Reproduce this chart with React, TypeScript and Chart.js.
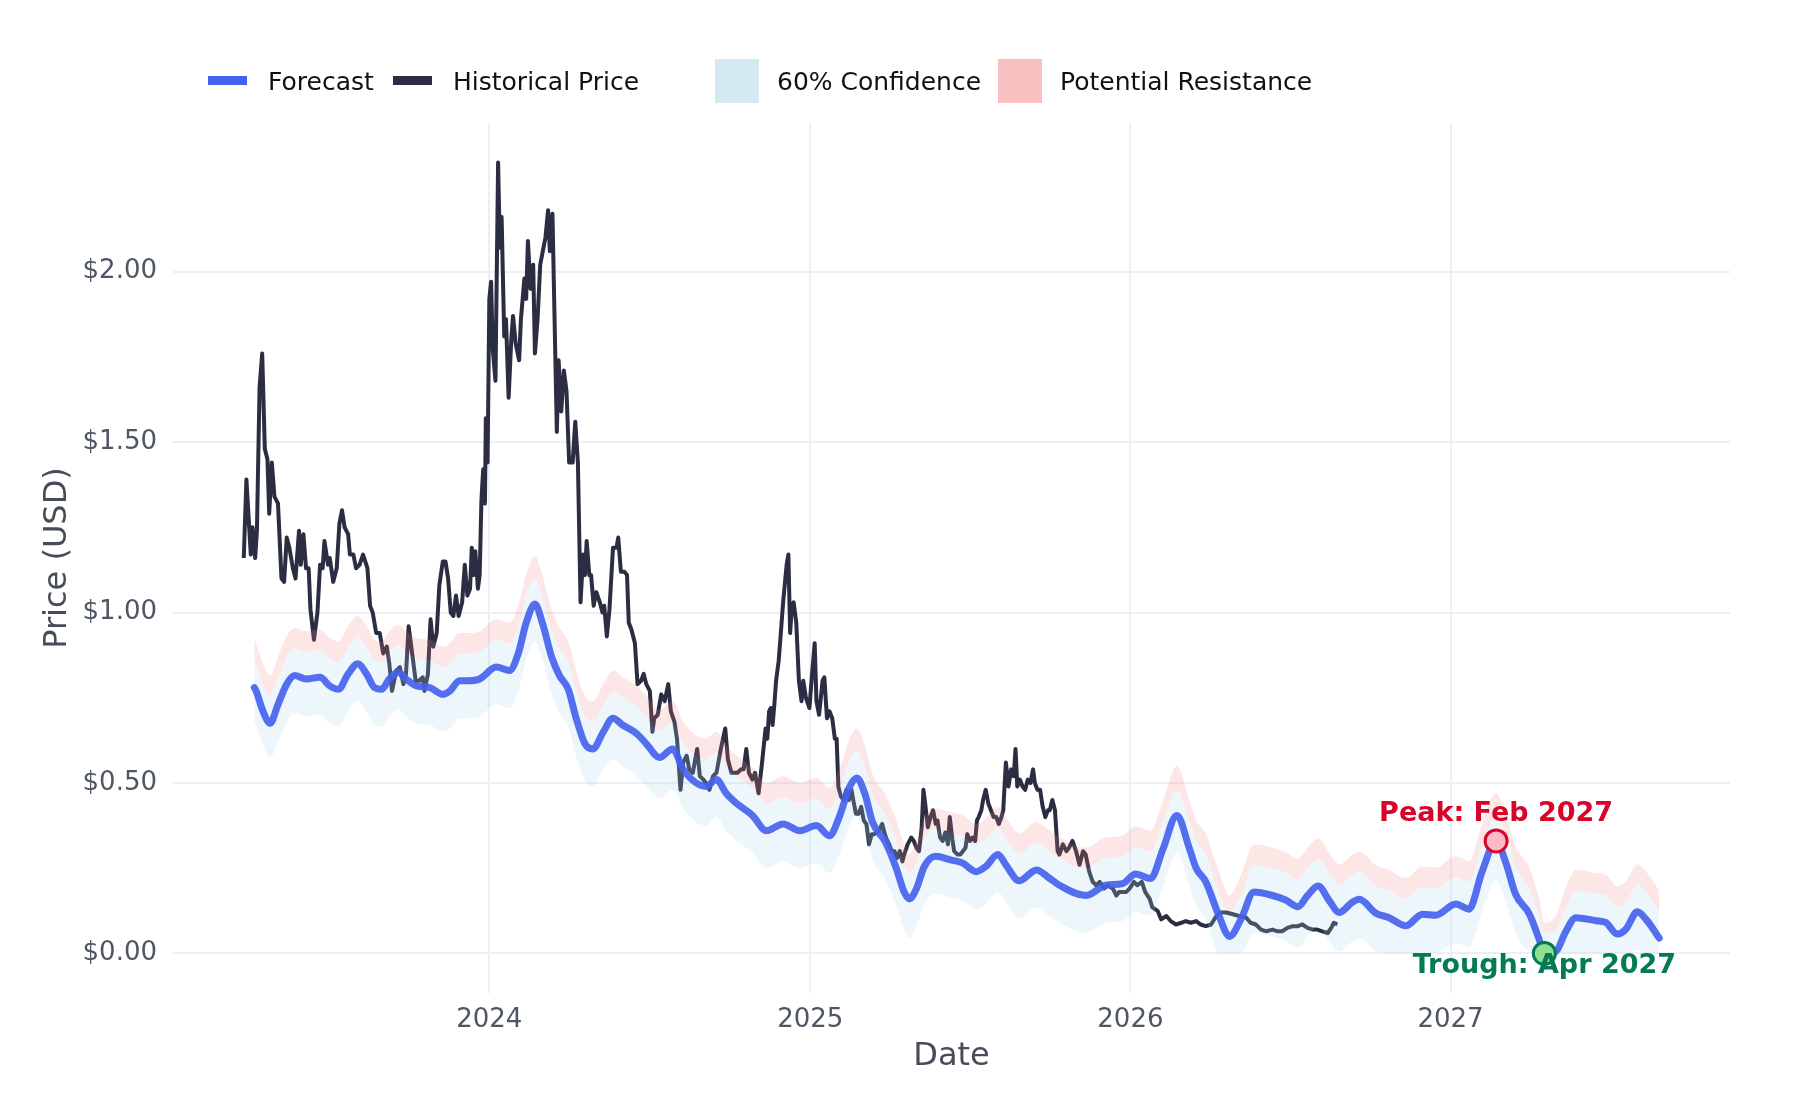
import React, { useEffect, useRef } from 'react';
import { Chart, registerables } from 'chart.js';

Chart.register(...registerables);

const DAY = 86400000;
const SERIES_START = Date.UTC(2023, 2, 27);

// historical closes, day offsets from SERIES_START
const histDay = [
  0, 3, 8, 10, 13, 15, 18, 21, 24, 27, 29, 32, 35, 39, 43, 46, 49, 52, 56, 59,
  63, 65, 68, 71, 74, 76, 80, 84, 87, 90, 92, 96, 98, 102, 106, 109, 112, 115, 119, 121,
  125, 128, 132, 136, 141, 144, 147, 151, 155, 159, 163, 166, 169, 174, 178, 182, 185, 188, 192, 196,
  200, 204, 206, 210, 213, 216, 220, 223, 227, 230, 233, 236, 239, 242, 245, 249, 252, 255,
  258, 260, 262, 264, 267, 269, 271, 273, 275, 276, 278, 280, 282, 284, 287, 290, 292, 294, 297, 299,
  302, 305, 307, 310, 314, 316, 320, 322, 324, 327, 330, 332, 335, 338, 341, 344, 347, 349, 352, 354,
  357, 359, 362, 365, 368, 371, 375, 378, 381, 384, 387, 389, 391, 394, 396, 399, 402, 406, 409, 411,
  414, 417, 421, 425, 427, 430, 434, 437, 439, 442, 446, 449, 453, 456, 459, 463, 466, 468, 472, 476,
  480, 484, 487, 491, 494, 498, 501, 505, 508, 512, 517, 520, 524, 527, 531, 535, 539, 544, 549, 552,
  556, 560, 563, 567, 570, 573, 576, 580, 583, 587, 591, 595, 597, 599,
  601, 603, 605, 607, 610, 613, 615, 619, 621, 623, 625, 627, 630, 633, 636, 638, 641, 645, 648, 651,
  653, 656, 660, 662, 665, 668, 671, 674, 676, 678, 681, 684, 687, 690, 693, 695, 698, 701, 704, 707,
  710, 713, 716, 719, 722, 725, 728, 731, 733, 736, 739, 742, 745, 748, 751, 753, 757, 761, 764, 767,
  770, 773, 775, 777, 780, 783, 786, 789, 791, 794, 797, 800, 803, 805, 808, 810, 814, 817, 820, 823,
  825, 828, 831, 834, 836, 838, 841, 843, 846, 849, 852, 855, 858, 861, 864, 866, 869, 872, 875, 878,
  880, 882, 885, 888, 891, 894, 897, 900, 902, 905, 908, 911, 914, 917, 919, 922, 925, 928, 930,
  934, 938, 941, 945, 949, 953, 957, 960, 964, 968, 972, 976, 981, 985, 991, 995, 998, 1002, 1006, 1010,
  1015, 1019, 1024, 1028, 1033, 1036, 1042, 1046, 1052, 1057, 1063, 1069, 1074, 1080, 1086, 1091, 1097, 1103, 1109, 1114,
  1120, 1128, 1135, 1143, 1148, 1154, 1160, 1166, 1173, 1179, 1184, 1190, 1196, 1202, 1207, 1213, 1219, 1224, 1230, 1236,
  1240, 1243, 1247,
];

const histPrice = [
  1.16, 1.39, 1.17, 1.25, 1.16, 1.24, 1.66, 1.76, 1.48, 1.45, 1.29, 1.44, 1.34, 1.32, 1.10, 1.09, 1.22, 1.19, 1.13, 1.10,
  1.24, 1.14, 1.23, 1.13, 1.13, 1.01, 0.92, 1.00, 1.14, 1.13, 1.21, 1.14, 1.16, 1.09, 1.13, 1.26, 1.30, 1.25, 1.23, 1.17,
  1.17, 1.13, 1.14, 1.17, 1.13, 1.02, 1.00, 0.94, 0.94, 0.88, 0.90, 0.85, 0.77, 0.83, 0.84, 0.79, 0.82, 0.96, 0.88, 0.80,
  0.80, 0.81, 0.77, 0.82, 0.98, 0.90, 0.94, 1.08, 1.15, 1.15, 1.10, 1.00, 0.99, 1.05, 0.99, 1.03, 1.14, 1.05,
  1.07, 1.19, 1.11, 1.18, 1.07, 1.11, 1.33, 1.42, 1.32, 1.57, 1.44, 1.92, 1.97, 1.77, 1.68, 2.32, 2.07, 2.16, 1.81, 1.86,
  1.63, 1.80, 1.87, 1.79, 1.74, 1.86, 1.98, 1.92, 2.09, 1.95, 2.02, 1.76, 1.86, 2.02, 2.06, 2.10, 2.18, 2.06, 2.17, 1.91,
  1.53, 1.74, 1.59, 1.71, 1.65, 1.44, 1.44, 1.56, 1.44, 1.03, 1.17, 1.11, 1.21, 1.11, 1.11, 1.02, 1.06, 1.03, 1.00, 1.02,
  0.93, 1.01, 1.19, 1.19, 1.22, 1.12, 1.12, 1.11, 0.97, 0.95, 0.91, 0.79, 0.80, 0.82, 0.79, 0.77, 0.65, 0.69, 0.70, 0.76,
  0.74, 0.79, 0.71, 0.68, 0.63, 0.48, 0.56, 0.58, 0.54, 0.53, 0.60, 0.52, 0.51, 0.50, 0.48, 0.52, 0.53, 0.60, 0.66, 0.57,
  0.53, 0.53, 0.53, 0.54, 0.54, 0.60, 0.53, 0.51, 0.53, 0.47, 0.56, 0.66, 0.63, 0.71,
  0.72, 0.67, 0.73, 0.80, 0.86, 0.96, 1.03, 1.14, 1.17, 0.94, 1.02, 1.03, 0.97, 0.80, 0.74, 0.80, 0.75, 0.72, 0.82, 0.91,
  0.74, 0.70, 0.80, 0.81, 0.69, 0.71, 0.69, 0.63, 0.63, 0.49, 0.46, 0.45, 0.48, 0.45, 0.48, 0.45, 0.41, 0.41, 0.43, 0.39,
  0.38, 0.32, 0.35, 0.35, 0.355, 0.365, 0.38, 0.35, 0.335, 0.32, 0.30, 0.30, 0.28, 0.30, 0.27, 0.29, 0.32, 0.34, 0.33, 0.31,
  0.30, 0.37, 0.48, 0.44, 0.37, 0.40, 0.42, 0.38, 0.39, 0.34, 0.33, 0.355, 0.32, 0.40, 0.335, 0.30, 0.29, 0.29, 0.30, 0.31,
  0.35, 0.33, 0.34, 0.33, 0.39, 0.40, 0.42, 0.45, 0.48, 0.44, 0.42, 0.40, 0.40, 0.38, 0.40, 0.42, 0.56, 0.49, 0.54, 0.52,
  0.60, 0.49, 0.51, 0.49, 0.48, 0.51, 0.50, 0.54, 0.50, 0.48, 0.48, 0.43, 0.40, 0.42, 0.42, 0.45, 0.42, 0.30, 0.29,
  0.32, 0.30, 0.31, 0.33, 0.30, 0.26, 0.30, 0.29, 0.24, 0.21, 0.20, 0.21, 0.19, 0.20, 0.19, 0.17, 0.18, 0.18, 0.18, 0.19,
  0.21, 0.20, 0.21, 0.18, 0.16, 0.135, 0.125, 0.10, 0.11, 0.095, 0.085, 0.09, 0.095, 0.09, 0.095, 0.085, 0.08, 0.085, 0.11, 0.12,
  0.12, 0.115, 0.11, 0.105, 0.09, 0.085, 0.07, 0.065, 0.07, 0.065, 0.065, 0.075, 0.08, 0.08, 0.085, 0.075, 0.07, 0.07, 0.065, 0.06,
  0.075, 0.09, 0.085,
];

// forecast path and its bands, day offsets from SERIES_START
const fcDay = [
  12, 14, 22, 30, 39, 49, 58, 71, 87, 98, 108, 119, 130, 140, 149, 157, 166, 176, 185, 197,
  212, 227, 235, 246, 257, 269, 288, 303, 313, 322, 332, 341, 351, 360, 370, 379, 389, 398, 410, 421,
  432, 448, 459, 474, 489, 501, 516, 527, 539, 550, 562, 580, 596, 615, 634, 653, 668, 679, 691, 699,
  708, 717, 732, 744, 753, 759, 767, 776, 789, 805, 820, 835, 846, 860, 869, 884, 904, 918, 930, 960,
  983, 1002, 1017, 1034, 1048, 1064, 1078, 1086, 1097, 1112, 1124, 1137, 1152, 1173, 1188, 1202, 1213, 1225, 1238, 1249,
  1264, 1272, 1291, 1306, 1325, 1344, 1359, 1382, 1397, 1412, 1428, 1439, 1450, 1466, 1477, 1483, 1496, 1507, 1519, 1542,
  1553, 1566, 1576, 1589, 1599, 1614,
];

const fcPrice = [
  0.78, 0.77, 0.71, 0.675, 0.73, 0.79, 0.815, 0.805, 0.81, 0.785, 0.775, 0.82, 0.85, 0.82, 0.78, 0.775, 0.805, 0.825, 0.805, 0.785,
  0.78, 0.76, 0.77, 0.80, 0.80, 0.805, 0.84, 0.83, 0.88, 0.97, 1.025, 0.965, 0.87, 0.815, 0.775, 0.69, 0.615, 0.60, 0.65, 0.69,
  0.67, 0.645, 0.615, 0.575, 0.60, 0.54, 0.50, 0.49, 0.51, 0.47, 0.44, 0.405, 0.36, 0.38, 0.36, 0.375, 0.345, 0.40, 0.49, 0.515,
  0.47, 0.385, 0.325, 0.25, 0.18, 0.16, 0.19, 0.255, 0.285, 0.275, 0.265, 0.24, 0.255, 0.29, 0.26, 0.213, 0.245, 0.222, 0.20, 0.17,
  0.20, 0.205, 0.233, 0.22, 0.305, 0.405, 0.31, 0.25, 0.21, 0.11, 0.05, 0.10, 0.18, 0.17, 0.157, 0.137, 0.17, 0.198, 0.154, 0.12,
  0.15, 0.159, 0.118, 0.105, 0.081, 0.115, 0.112, 0.145, 0.13, 0.24, 0.33, 0.267, 0.175, 0.115, 0.042, 0.0, 0.005, 0.062, 0.105, 0.096,
  0.091, 0.057, 0.071, 0.122, 0.10, 0.045,
];

const confLow = [
  0.68, 0.67, 0.61, 0.575, 0.62, 0.68, 0.705, 0.695, 0.70, 0.675, 0.665, 0.71, 0.74, 0.71, 0.67, 0.665, 0.695, 0.715, 0.695, 0.675,
  0.67, 0.65, 0.66, 0.69, 0.69, 0.695, 0.73, 0.72, 0.77, 0.86, 0.915, 0.855, 0.76, 0.705, 0.665, 0.58, 0.505, 0.49, 0.54, 0.57,
  0.55, 0.52, 0.49, 0.455, 0.48, 0.425, 0.385, 0.375, 0.40, 0.36, 0.33, 0.295, 0.25, 0.27, 0.25, 0.265, 0.235, 0.29, 0.38, 0.405,
  0.36, 0.275, 0.215, 0.14, 0.07, 0.045, 0.08, 0.145, 0.175, 0.165, 0.155, 0.13, 0.145, 0.18, 0.15, 0.103, 0.135, 0.112, 0.09, 0.06,
  0.09, 0.095, 0.123, 0.11, 0.195, 0.295, 0.20, 0.14, 0.10, 0.0, 0.0, 0.0, 0.06, 0.05, 0.037, 0.017, 0.05, 0.078, 0.034, 0.005,
  0.035, 0.044, 0.008, 0.0, 0.0, 0.005, 0.002, 0.03, 0.02, 0.125, 0.215, 0.152, 0.062, 0.005, 0.0, 0.0, 0.0, 0.0, 0.0, 0.0,
  0.0, 0.0, 0.0, 0.01, 0.0, 0.0,
];

const confHigh = [
  0.86, 0.85, 0.79, 0.76, 0.81, 0.87, 0.895, 0.885, 0.89, 0.865, 0.855, 0.90, 0.93, 0.90, 0.86, 0.855, 0.885, 0.905, 0.885, 0.865,
  0.86, 0.84, 0.85, 0.88, 0.88, 0.885, 0.92, 0.91, 0.96, 1.05, 1.10, 1.04, 0.95, 0.895, 0.855, 0.77, 0.695, 0.68, 0.73, 0.77,
  0.75, 0.725, 0.695, 0.655, 0.68, 0.62, 0.58, 0.57, 0.59, 0.55, 0.52, 0.485, 0.44, 0.46, 0.44, 0.455, 0.425, 0.48, 0.57, 0.595,
  0.55, 0.465, 0.405, 0.33, 0.26, 0.235, 0.27, 0.335, 0.365, 0.355, 0.345, 0.32, 0.335, 0.37, 0.34, 0.293, 0.325, 0.302, 0.28, 0.25,
  0.28, 0.285, 0.313, 0.30, 0.385, 0.48, 0.39, 0.33, 0.29, 0.18, 0.12, 0.17, 0.26, 0.25, 0.237, 0.217, 0.25, 0.278, 0.234, 0.20,
  0.23, 0.239, 0.198, 0.185, 0.161, 0.195, 0.192, 0.225, 0.21, 0.32, 0.405, 0.347, 0.255, 0.19, 0.11, 0.06, 0.07, 0.13, 0.182, 0.176,
  0.171, 0.137, 0.151, 0.202, 0.18, 0.125,
];

const resistHigh = [
  0.92, 0.91, 0.85, 0.815, 0.87, 0.93, 0.955, 0.945, 0.95, 0.925, 0.915, 0.96, 0.99, 0.96, 0.92, 0.915, 0.945, 0.965, 0.945, 0.925,
  0.92, 0.90, 0.91, 0.94, 0.94, 0.945, 0.98, 0.97, 1.02, 1.11, 1.165, 1.105, 1.01, 0.955, 0.915, 0.83, 0.755, 0.74, 0.79, 0.83,
  0.81, 0.785, 0.755, 0.715, 0.74, 0.68, 0.64, 0.63, 0.65, 0.61, 0.58, 0.545, 0.50, 0.52, 0.50, 0.515, 0.485, 0.54, 0.63, 0.66,
  0.61, 0.525, 0.465, 0.39, 0.32, 0.29, 0.33, 0.395, 0.425, 0.415, 0.405, 0.38, 0.395, 0.43, 0.40, 0.353, 0.385, 0.362, 0.34, 0.31,
  0.34, 0.345, 0.373, 0.36, 0.445, 0.55, 0.45, 0.39, 0.35, 0.24, 0.17, 0.23, 0.32, 0.31, 0.297, 0.277, 0.31, 0.338, 0.294, 0.26,
  0.29, 0.299, 0.258, 0.245, 0.221, 0.255, 0.252, 0.285, 0.27, 0.38, 0.47, 0.407, 0.315, 0.25, 0.16, 0.09, 0.11, 0.19, 0.245, 0.236,
  0.231, 0.197, 0.211, 0.262, 0.24, 0.185,
];

const yTicks = [0, 0.5, 1, 1.5, 2];
const xTickYears = [2024, 2025, 2026, 2027];
const MONTHS = ['Jan', 'Feb', 'Mar', 'Apr', 'May', 'Jun', 'Jul', 'Aug', 'Sep', 'Oct', 'Nov', 'Dec'];

const FONT = '"DejaVu Sans", sans-serif';

const toPoints = (days: number[], values: number[]) =>
  days.map((d, i) => ({ x: SERIES_START + d * DAY, y: values[i] }));

// peak and trough of the 2027 forecast
const start2027 = (Date.UTC(2027, 0, 1) - SERIES_START) / DAY;
let peakIdx = -1;
fcDay.forEach((d, i) => {
  if (d >= start2027 && (peakIdx < 0 || fcPrice[i] > fcPrice[peakIdx])) peakIdx = i;
});
let troughIdx = -1;
fcDay.forEach((d, i) => {
  if (i > peakIdx && (troughIdx < 0 || fcPrice[i] < fcPrice[troughIdx])) troughIdx = i;
});

const monthLabel = (day: number) => {
  const dt = new Date(SERIES_START + day * DAY);
  return `${MONTHS[dt.getUTCMonth()]} ${dt.getUTCFullYear()}`;
};

const legendPlugin = {
  id: 'topLegend',
  afterDraw(chart: Chart) {
    const { ctx } = chart;
    const items = [
      { ds: 4, kind: 'line', color: '#4361ee', x: 208 },
      { ds: 0, kind: 'line', color: '#2b2d42', x: 393 },
      { ds: 2, kind: 'box', color: '#d3eaf2', x: 715 },
      { ds: 3, kind: 'box', color: '#f8c0c0', x: 998 },
    ];
    ctx.save();
    ctx.font = `25px ${FONT}`;
    ctx.textBaseline = 'alphabetic';
    ctx.textAlign = 'left';
    items.forEach((it) => {
      ctx.fillStyle = it.color;
      if (it.kind === 'line') {
        ctx.fillRect(it.x, 76, 39, 9);
      } else {
        ctx.fillRect(it.x, 59, 44, 44);
      }
      ctx.fillStyle = '#111111';
      const label = chart.data.datasets[it.ds].label as string;
      ctx.fillText(label, it.x + (it.kind === 'line' ? 60 : 62), 89.5);
    });
    ctx.restore();
  },
};

const annotationPlugin = {
  id: 'peakTrough',
  afterDatasetsDraw(chart: Chart) {
    const { ctx } = chart;
    const peak = chart.getDatasetMeta(5).data[0];
    const trough = chart.getDatasetMeta(6).data[0];
    if (!peak || !trough) return;
    ctx.save();
    ctx.font = `bold 27px ${FONT}`;
    ctx.textAlign = 'center';
    ctx.textBaseline = 'alphabetic';
    ctx.fillStyle = '#d90429';
    ctx.fillText(`Peak: ${monthLabel(fcDay[peakIdx])}`, peak.x, peak.y - 20);
    ctx.fillStyle = '#047a55';
    ctx.fillText(`Trough: ${monthLabel(fcDay[troughIdx])}`, trough.x, trough.y + 20);
    ctx.restore();
  },
};

const PriceForecastChart: React.FC = () => {
  const canvasRef = useRef<HTMLCanvasElement | null>(null);
  const chartRef = useRef<Chart | null>(null);

  useEffect(() => {
    document.body.style.margin = '0';
    const ctx = canvasRef.current?.getContext('2d');
    if (!ctx) return;
    if (chartRef.current) chartRef.current.destroy();

    const first = Math.min(histDay[0], fcDay[0]);
    const last = Math.max(histDay[histDay.length - 1], fcDay[fcDay.length - 1]);
    const xPad = (last - first) * 0.05;
    const yMax = Math.max(...histPrice, ...resistHigh);
    const yMin = Math.min(...fcPrice, ...confLow);
    const yPad = (yMax - yMin) * 0.05;

    Chart.defaults.font.family = FONT;

    chartRef.current = new Chart(ctx, {
      type: 'line',
      data: {
        datasets: [
          {
            label: 'Historical Price',
            data: toPoints(histDay, histPrice),
            borderColor: '#2b2d42',
            borderWidth: 4,
            borderJoinStyle: 'round',
            pointRadius: 0,
            tension: 0,
            fill: false,
            order: 5,
          },
          {
            label: 'lower',
            data: toPoints(fcDay, confLow),
            borderColor: 'rgba(0,0,0,0)',
            borderWidth: 0,
            pointRadius: 0,
            cubicInterpolationMode: 'monotone',
            fill: false,
            order: 4,
          },
          {
            label: '60% Confidence',
            data: toPoints(fcDay, confHigh),
            borderColor: 'rgba(0,0,0,0)',
            borderWidth: 0,
            pointRadius: 0,
            cubicInterpolationMode: 'monotone',
            backgroundColor: 'rgba(173,216,230,0.22)',
            fill: { target: 1 },
            order: 3,
          },
          {
            label: 'Potential Resistance',
            data: toPoints(fcDay, resistHigh),
            borderColor: 'rgba(0,0,0,0)',
            borderWidth: 0,
            pointRadius: 0,
            cubicInterpolationMode: 'monotone',
            backgroundColor: 'rgba(240,128,128,0.2)',
            fill: { target: 2 },
            order: 2,
          },
          {
            label: 'Forecast',
            data: toPoints(fcDay, fcPrice),
            borderColor: 'rgba(67,97,238,0.9)',
            borderWidth: 7,
            borderJoinStyle: 'round',
            borderCapStyle: 'round',
            pointRadius: 0,
            cubicInterpolationMode: 'monotone',
            fill: false,
            order: 1,
          },
          {
            label: 'Peak',
            data: [{ x: SERIES_START + fcDay[peakIdx] * DAY, y: fcPrice[peakIdx] }],
            showLine: false,
            pointRadius: 11,
            pointBorderWidth: 3,
            pointBackgroundColor: '#ffb8c6',
            pointBorderColor: '#d90429',
            order: 0,
          },
          {
            label: 'Trough',
            data: [{ x: SERIES_START + fcDay[troughIdx] * DAY, y: fcPrice[troughIdx] }],
            showLine: false,
            pointRadius: 11,
            pointBorderWidth: 3,
            pointBackgroundColor: '#90e090',
            pointBorderColor: '#047a55',
            order: 0,
          },
        ],
      },
      options: {
        animation: false,
        responsive: true,
        maintainAspectRatio: false,
        events: [],
        layout: { padding: { top: 123, right: 70, left: 0, bottom: 0 } },
        plugins: {
          legend: { display: false },
          tooltip: { enabled: false },
        },
        scales: {
          x: {
            type: 'linear',
            min: SERIES_START + (first - xPad) * DAY,
            max: SERIES_START + (last + xPad) * DAY,
            afterBuildTicks: (scale: any) => {
              scale.ticks = xTickYears.map((y) => ({ value: Date.UTC(y, 0, 1) }));
            },
            afterFit: (scale: any) => {
              scale.height = 107;
            },
            grid: { color: '#ebf0f8', lineWidth: 2, drawTicks: false },
            border: { display: false },
            ticks: {
              autoSkip: false,
              maxRotation: 0,
              padding: 12,
              color: '#4f5664',
              font: { size: 26 },
              callback: (v: any) => String(new Date(Number(v)).getUTCFullYear()),
            },
            title: {
              display: true,
              text: 'Date',
              color: '#474d58',
              font: { size: 32 },
              padding: { top: 0, bottom: 24 },
            },
          },
          y: {
            type: 'linear',
            min: yMin - yPad,
            max: yMax + yPad,
            afterBuildTicks: (scale: any) => {
              scale.ticks = yTicks.map((v) => ({ value: v }));
            },
            afterFit: (scale: any) => {
              scale.width = 173;
            },
            grid: { color: '#ebf0f8', lineWidth: 2, drawTicks: false },
            border: { display: false },
            ticks: {
              padding: 16,
              color: '#4f5664',
              font: { size: 26 },
              callback: (v: any) => `$${Number(v).toFixed(2)}`,
            },
            title: {
              display: true,
              text: 'Price (USD)',
              color: '#474d58',
              font: { size: 32 },
              padding: { top: 38, bottom: 0 },
            },
          },
        },
      },
      plugins: [annotationPlugin, legendPlugin],
    } as any);

    return () => {
      if (chartRef.current) {
        chartRef.current.destroy();
        chartRef.current = null;
      }
    };
  }, []);

  return (
    <div style={{ width: 1800, height: 1100, position: 'relative', background: '#ffffff' }}>
      <canvas ref={canvasRef} />
    </div>
  );
};

export default function App() {
  return <PriceForecastChart />;
}
